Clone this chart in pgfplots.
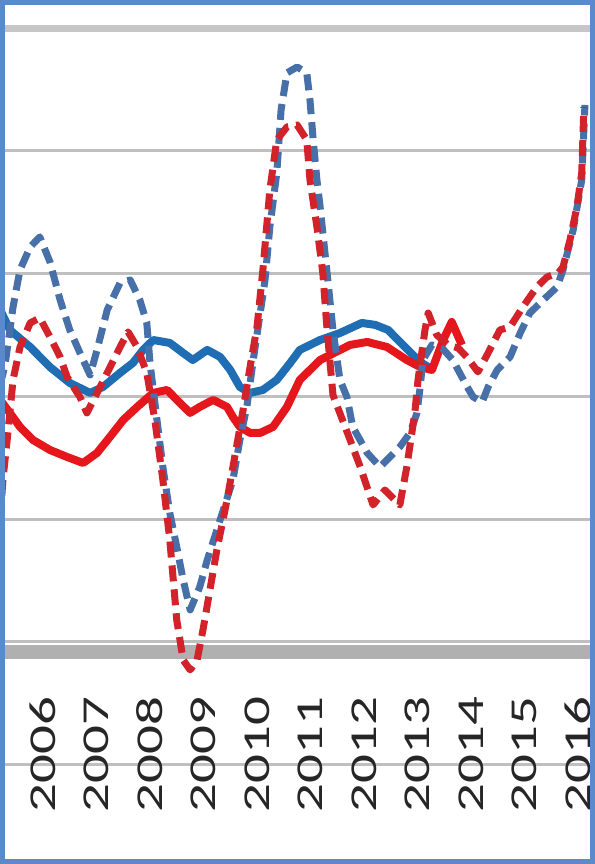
\documentclass[border=0pt]{standalone}
\usepackage{fontspec}
\setmainfont{Carlito}
\usepackage{graphicx}
\usepackage{pgfplots}
\pgfplotsset{compat=1.18}
\definecolor{bsol}{HTML}{1F6EB4}
\definecolor{bdash}{HTML}{4770A8}
\definecolor{rsol}{HTML}{E5161C}
\definecolor{rdash}{HTML}{D2222A}
\definecolor{frameblue}{HTML}{5A8ACB}
\newcommand{\yl}[1]{\scalebox{1.5}[1]{#1}}

\pgfplotstableread{
x y
2005.20 2.705
2005.38 2.542
2005.76 2.403
2006.13 2.240
2006.50 2.110
2006.88 2.029
2007.12 2.077
2007.44 2.192
2007.68 2.273
2007.87 2.379
2008.06 2.460
2008.37 2.436
2008.62 2.354
2008.80 2.297
2009.07 2.379
2009.31 2.322
2009.50 2.216
2009.68 2.077
2009.87 2.029
2010.11 2.053
2010.37 2.135
2010.62 2.273
2010.80 2.379
2011.18 2.460
2011.55 2.517
2011.96 2.599
2012.21 2.583
2012.45 2.542
2012.82 2.379
2013.05 2.281
2013.23 2.232
}\bluesolid

\pgfplotstableread{
x y
2005.20 1.972
2005.38 1.866
2005.57 1.752
2005.81 1.646
2006.13 1.564
2006.45 1.507
2006.75 1.458
2007.01 1.540
2007.25 1.670
2007.50 1.809
2007.76 1.915
2008.06 2.029
2008.32 2.053
2008.56 1.947
2008.75 1.866
2008.93 1.915
2009.18 1.972
2009.44 1.915
2009.55 1.833
2009.68 1.752
2009.87 1.703
2010.06 1.703
2010.30 1.752
2010.56 1.915
2010.80 2.135
2011.18 2.297
2011.74 2.420
2012.06 2.444
2012.43 2.403
2012.80 2.297
2013.05 2.240
2013.27 2.216
2013.48 2.460
2013.64 2.607
2013.83 2.420
}\redsolid

\pgfplotstableread{
x y
2005.20 2.094
2005.29 2.257
2005.44 2.729
2005.57 3.031
2005.76 3.218
2005.94 3.300
2006.13 3.096
2006.32 2.786
2006.50 2.542
2006.75 2.297
2006.88 2.175
2007.01 2.379
2007.20 2.705
2007.44 2.925
2007.63 2.949
2007.81 2.786
2007.94 2.599
2008.00 2.273
2008.13 1.809
2008.24 1.426
2008.37 1.051
2008.50 0.774
2008.62 0.505
2008.75 0.261
2008.93 0.448
2009.07 0.668
2009.31 0.994
2009.55 1.320
2009.68 1.646
2009.81 1.915
2009.93 2.297
2010.06 2.680
2010.15 2.949
2010.24 3.381
2010.37 3.821
2010.45 4.334
2010.56 4.636
2010.75 4.684
2010.93 4.636
2010.99 4.416
2011.05 4.090
2011.12 3.764
2011.18 3.544
2011.31 3.006
2011.42 2.542
2011.55 2.135
2011.68 1.996
2011.79 1.752
2012.06 1.540
2012.30 1.426
2012.43 1.483
2012.67 1.589
2012.86 1.703
2012.99 1.866
2013.05 2.077
2013.10 2.297
2013.27 2.420
2013.46 2.395
2013.66 2.297
2013.93 2.077
2014.04 1.996
2014.21 1.955
2014.32 2.077
2014.49 2.216
2014.73 2.322
2014.92 2.517
2015.10 2.680
2015.35 2.786
2015.61 2.892
2015.72 3.031
2015.91 3.357
2016.07 3.764
2016.13 4.375
}\bluedash

\pgfplotstableread{
x y
2005.20 0.994
2005.25 1.320
2005.33 1.646
2005.44 2.135
2005.57 2.403
2005.76 2.599
2005.94 2.640
2006.13 2.485
2006.32 2.322
2006.45 2.159
2006.69 1.996
2006.82 1.866
2007.01 2.029
2007.20 2.192
2007.44 2.403
2007.59 2.526
2007.76 2.403
2007.94 2.192
2008.09 1.809
2008.24 1.320
2008.37 0.831
2008.50 0.179
2008.62 -0.147
2008.75 -0.228
2008.88 -0.147
2008.99 0.098
2009.12 0.424
2009.25 0.750
2009.44 1.157
2009.63 1.621
2009.74 1.890
2009.87 2.240
2010.00 2.566
2010.11 3.031
2010.24 3.682
2010.37 4.090
2010.56 4.196
2010.75 4.212
2010.93 4.090
2010.99 3.764
2011.12 3.381
2011.23 3.006
2011.31 2.542
2011.42 2.012
2011.74 1.646
2011.93 1.426
2012.17 1.116
2012.39 1.238
2012.67 1.116
2012.80 1.426
2012.95 1.866
2013.01 2.135
2013.14 2.542
2013.20 2.680
2013.36 2.501
2013.57 2.420
2013.76 2.395
2013.92 2.322
2014.13 2.200
2014.30 2.338
2014.54 2.542
2014.73 2.566
2014.97 2.729
2015.23 2.892
2015.42 2.973
2015.63 3.006
2015.72 3.055
2015.85 3.275
2015.98 3.544
2016.07 3.821
2016.11 4.358
}\reddash

\begin{document}
\begin{tikzpicture}
\begin{axis}[
  at={(0,0)}, anchor=south west,
  scale only axis, width=297.5pt, height=432pt,
  xmin=2005.196, xmax=2016.318, ymin=-1.809, ymax=5.230,
  axis line style={draw=none}, tick style={draw=none},
  xtick={2005,2006,2007,2008,2009,2010,2011,2012,2013,2014,2015,2016},
  xticklabels={\yl{2005},\yl{2006},\yl{2007},\yl{2008},\yl{2009},\yl{2010},\yl{2011},\yl{2012},\yl{2013},\yl{2014},\yl{2015},\yl{2016}},
  xticklabel style={rotate=90, anchor=east, font=\fontsize{19}{19}\selectfont, text=black!85},
  xticklabel shift=-87pt,
  ytick={-1,0,1,2,3,4}, yticklabels={},
  ymajorgrids, major grid style={draw=gray!50, line width=1.5pt},
  clip=true,
]
\draw[gray!45, line width=3.5pt] (axis cs:2005.196,5) -- (axis cs:2016.318,5);
\draw[gray!62, line width=7pt] (axis cs:2005.196,-0.081) -- (axis cs:2016.318,-0.081);
\addplot[bsol, line width=4pt, line join=round] table[x=x,y=y] {\bluesolid};
\addplot[rsol, line width=4pt, line join=round] table[x=x,y=y] {\redsolid};
\addplot[bdash, line width=3.5pt, dash pattern=on 8pt off 4pt, line join=round] table[x=x,y=y] {\bluedash};
\addplot[rdash, line width=3.5pt, dash pattern=on 8pt off 4pt, line join=round] table[x=x,y=y] {\reddash};
\end{axis}
\draw[frameblue, line width=2.5pt] (1.25pt,1.25pt) rectangle (296.25pt,430.75pt);
\pgfresetboundingbox
\path[use as bounding box] (0,0) rectangle (297.5pt,432pt);
\end{tikzpicture}
\end{document}
